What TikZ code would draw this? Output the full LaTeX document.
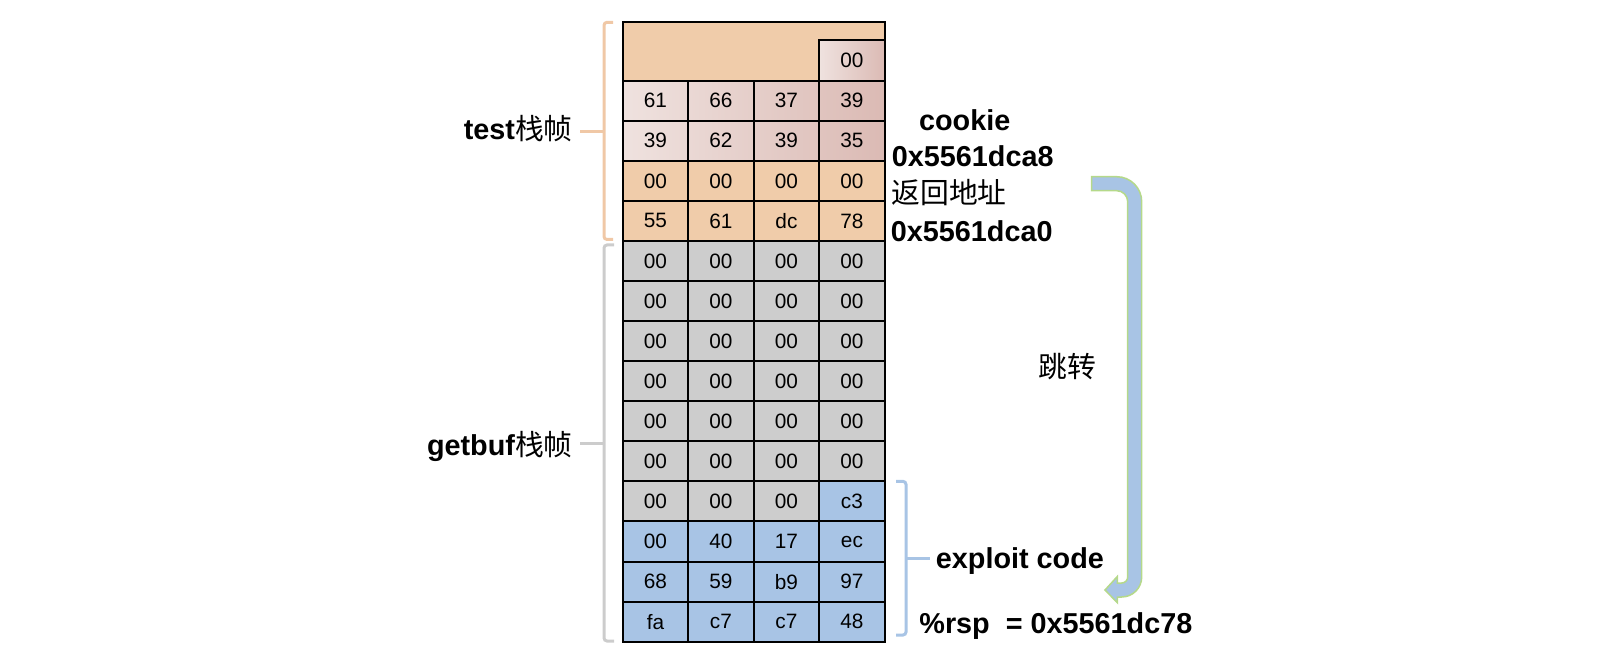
\documentclass[tikz,border=0pt]{standalone}
\usepackage{fontspec}
\setmainfont{Liberation Sans}
\newfontfamily\cjk{Noto Sans CJK SC}
\definecolor{peach}{HTML}{F0CCAA}
\definecolor{peachbr}{HTML}{F0C8A6}
\definecolor{pinkL}{HTML}{EFE2DF}
\definecolor{pinkD}{HTML}{DBBAB4}
\definecolor{grayc}{HTML}{CDCDCD}
\definecolor{bluec}{HTML}{A8C4E5}
\definecolor{greenb}{HTML}{B5D98A}
\definecolor{graybr}{HTML}{CCCCCC}
\begin{document}
\begin{tikzpicture}[x=0.5pt,y=-0.5pt,
  cell/.style={draw=black,line width=1pt,minimum width=32.75pt,minimum height=20.035pt,
    inner sep=0pt,outer sep=0pt,font=\fontsize{10.4}{12}\selectfont},
  pk/.style 2 args={left color=pinkD!#1!pinkL,right color=pinkD!#2!pinkL},
  pe/.style 2 args={fill=peach},
  gr/.style 2 args={fill=grayc},
  bl/.style 2 args={fill=bluec},
  brk/.style={line width=1.5pt,rounded corners=1.5pt},
  lbl/.style={inner sep=0pt,font=\fontsize{14.4}{17}\selectfont\bfseries},
  cjklbl/.style={inner sep=0pt,font=\fontsize{14.4}{17}\selectfont\cjk}]
\useasboundingbox (0,0) rectangle (1618,652);
% top block
\node[cell,fill=peach,minimum width=131pt,minimum height=29.2pt] (top) at (753.7,51.5) {};
\node[cell,left color=pinkL,right color=pinkD,minimum height=20.5pt] (t4) at (851.95,60.2) {00};
% rows
\foreach \r/\vals/\sty in {0/{61,66,37,39}/pk,1/{39,62,39,35}/pk,2/{00,00,00,00}/pe,3/{55,61,dc,78}/pe,
  4/{00,00,00,00}/gr,5/{00,00,00,00}/gr,6/{00,00,00,00}/gr,7/{00,00,00,00}/gr,8/{00,00,00,00}/gr,9/{00,00,00,00}/gr,
  11/{00,40,17,ec}/bl,12/{68,59,b9,97}/bl,13/{fa,c7,c7,48}/bl}{
  \foreach \v [count=\c, evaluate=\c as \lo using int((\c-1)*25), evaluate=\c as \hi using int(\c*25)] in \vals {
    \node[cell,\sty={\lo}{\hi}] (n\r-\c) at ({622.7+65.5*(\c-0.5)},{80.7+40.07*(\r+0.5)}) {\v};
  }
}
\foreach \v [count=\c] in {00,00,00} {
  \node[cell,fill=grayc] (n10-\c) at ({622.7+65.5*(\c-0.5)},{80.7+40.07*10.5}) {\v};
}
\node[cell,fill=bluec] (n10-4) at ({622.7+65.5*3.5},{80.7+40.07*10.5}) {c3};
% brackets
\draw[brk,peachbr] (613,22.3) -- (604,22.3) -- (604,239.5) -- (613,239.5);
\draw[line width=1.5pt,peachbr] (604,131.5) -- (580,131.5);
\draw[brk,graybr] (614,245) -- (604,245) -- (604,641) -- (614,641);
\draw[line width=1.5pt,graybr] (604,443) -- (580,443);
\draw[brk,bluec] (896,481.4) -- (906,481.4) -- (906,635) -- (896,635);
\draw[line width=1.5pt,bluec] (906,558.5) -- (930,558.5);
% labels
\node[anchor=base east,inner sep=0pt] (ltest) at (573,140) {\fontsize{14.4}{17}\selectfont\bfseries test\cjk\mdseries 栈帧};
\node[anchor=base east,inner sep=0pt] (lget) at (573,455) {\fontsize{14.4}{17}\selectfont\bfseries getbuf\cjk\mdseries 栈帧};
\node[lbl,anchor=base] (cookie) at (964.7,131) {cookie};
\node[lbl,anchor=base west] (ca8) at (891.5,166.7) {0x5561dca8};
\node[cjklbl,anchor=west] (ret) at (891,193) {返回地址};
\node[lbl,anchor=base west] (ca0) at (890.5,241.7) {0x5561dca0};
\node[cjklbl] (jump) at (1067,367) {跳转};
\node[lbl,anchor=base west] (expl) at (935.5,568.3) {exploit code};
\node[lbl,anchor=base west] (rsp) at (919,633.3) {\%rsp~~= 0x5561dc78};
% jump arrow
\draw[fill=bluec,draw=greenb,line width=0.75pt]
  (1091.7,176.7) -- (1116.7,176.7) arc (270:360:25) -- (1141.7,577) arc (0:90:20)
  -- (1117.3,597) -- (1117.3,602.7) -- (1105,590) -- (1117.3,576.5) -- (1117.3,583)
  -- (1121.7,583) arc (90:0:6) -- (1127.7,201.7) arc (0:-90:11) -- (1091.7,190.7) -- cycle;
\end{tikzpicture}
\end{document}
